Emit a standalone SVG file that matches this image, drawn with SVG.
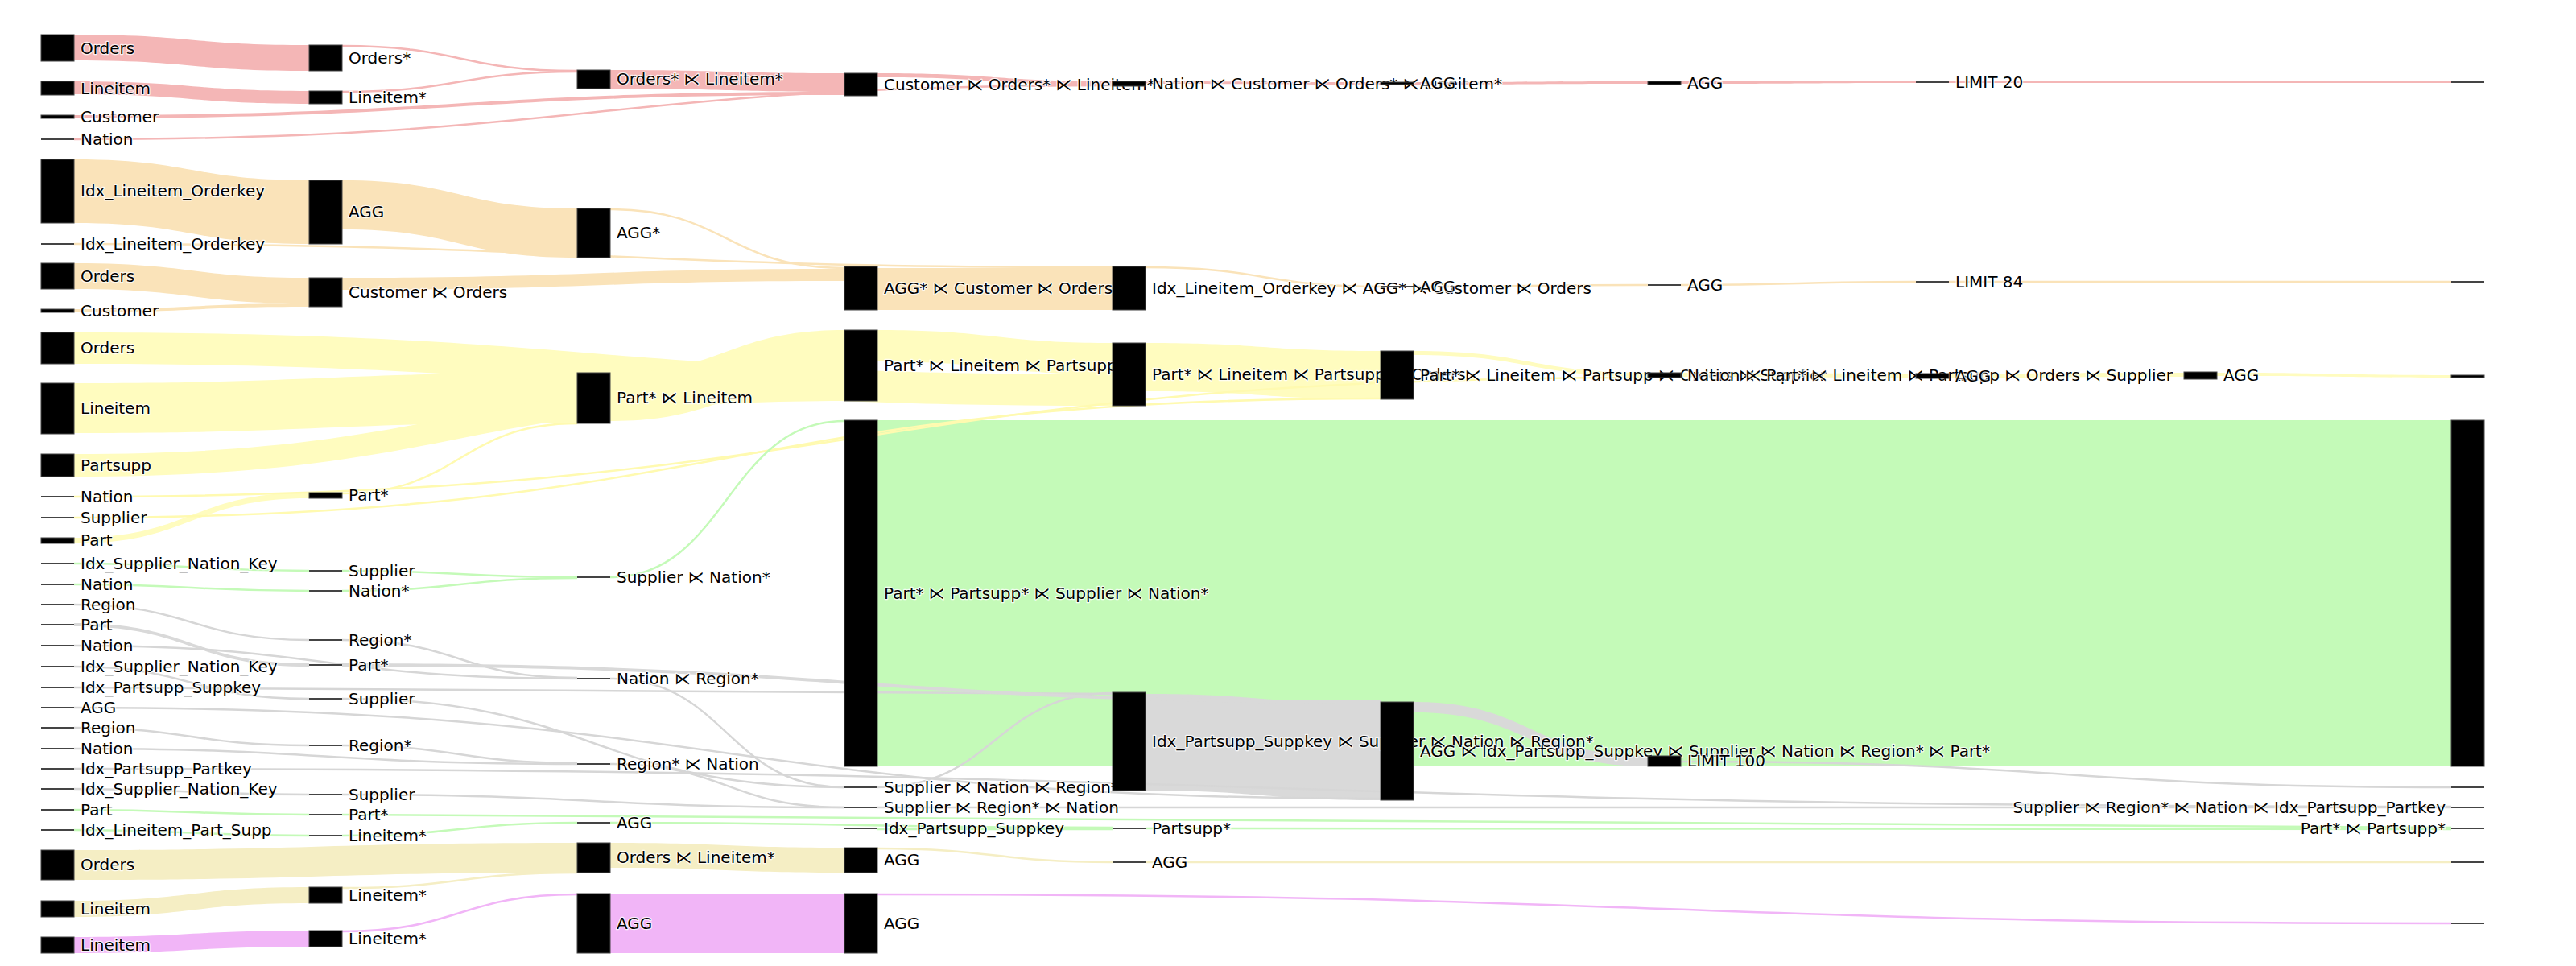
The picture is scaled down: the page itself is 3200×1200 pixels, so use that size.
<svg xmlns="http://www.w3.org/2000/svg" width="3200" height="1200" viewBox="0 0 3200 1200">
<style>
.nd{fill:#000;stroke:#444;stroke-width:1}
.th{fill:#444}
text{font-family:"DejaVu Sans","Liberation Sans",sans-serif;font-size:20px;fill:#000;stroke:#fff;stroke-width:2.5;stroke-linejoin:round;paint-order:stroke;stroke-opacity:.8}
.r{text-anchor:end}
.pk{fill:#F4B6B6}.pkl{fill:none;stroke:#F4B6B6;stroke-width:2.5}
.or{fill:#FAE3B9}.orl{fill:none;stroke:#FAE3B9;stroke-width:2.5}
.ye{fill:#FFFCBF}.yel{fill:none;stroke:#FFFAB0;stroke-width:2.5}
.gr{fill:#C4FAB8}.grl{fill:none;stroke:#C4FAB8;stroke-width:2.5}
.gy{fill:#D9D9D9}.gyl{fill:none;stroke:#D6D6D6;stroke-width:2.5}
.kh{fill:#F5EEC4}.khl{fill:none;stroke:#F5EEC4;stroke-width:2.5}
.vi{fill:#F1B5F7}.vil{fill:none;stroke:#F1B5F7;stroke-width:2.5}
</style>
<rect width="3200" height="1200" fill="#fff"/>
<g id="links">
<path class="gr" d="M1090,522L3045,522L3045,952L1090,952Z"/>
<path class="pk" d="M92,43C238,43 238,56 384,56L384,88C238,88 238,75 92,75Z"/>
<path class="pk" d="M92,101C238,101 238,113 384,113L384,129C238,129 238,117 92,117Z"/>
<path class="pkl" d="M425,57C571,57 571,88 717,88"/>
<path class="pkl" d="M425,114C571,114 571,89 717,89"/>
<path class="pk" d="M92,143C570,143 570,114 1049,114L1049,118C570,118 570,147 92,147Z"/>
<path class="pkl" d="M92,173C737,173 737,106 1382,106"/>
<path class="pk" d="M758,87C903,87 903,91 1049,91L1049,114C903,114 903,110 758,110Z"/>
<path class="pk" d="M1090,91C1236,91 1236,101 1382,101L1382,106C1236,106 1236,96 1090,96Z"/>
<path class="pk" d="M1423,101C1569,101 1569,102 1715,102L1715,105C1569,105 1569,104 1423,104Z"/>
<path class="pk" d="M1756,102C1901,102 1901,101 2047,101L2047,104C1901,104 1901,105 1756,105Z"/>
<path class="pk" d="M2088,101C2234,101 2234,100 2380,100L2380,103C2234,103 2234,104 2088,104Z"/>
<path class="pk" d="M2421,100L3045,100L3045,103L2421,103Z"/>
<path class="or" d="M92,198C238,198 238,224 384,224L384,303C238,303 238,277 92,277Z"/>
<path class="orl" d="M92,303C737,303 737,332 1382,332"/>
<path class="or" d="M425,224C571,224 571,259 717,259L717,320C571,320 571,285 425,285Z"/>
<path class="orl" d="M758,260C903,260 903,333 1049,333"/>
<path class="or" d="M92,327C238,327 238,345 384,345L384,377C238,377 238,359 92,359Z"/>
<path class="or" d="M92,384C238,384 238,377 384,377L384,381C238,381 238,388 92,388Z"/>
<path class="or" d="M425,345C737,345 737,334 1049,334L1049,349C737,349 737,360 425,360Z"/>
<path class="or" d="M1090,333L1382,333L1382,385L1090,385Z"/>
<path class="orl" d="M1423,332C1569,332 1569,356 1715,356"/>
<path class="orl" d="M1756,356C1901,356 1901,354 2047,354"/>
<path class="orl" d="M2088,354C2234,354 2234,350 2380,350"/>
<path class="orl" d="M2421,350L3045,350"/>
<path class="ye" d="M92,668C238,668 238,612 384,612L384,619C238,619 238,675 92,675Z"/>
<path class="yel" d="M425,613C571,613 571,526 717,526"/>
<path class="ye" d="M92,476C404,476 404,463 717,463L717,525C404,525 404,538 92,538Z"/>
<path class="ye" d="M92,413C737,413 737,465 1382,465L1382,504C737,504 737,452 92,452Z"/>
<path class="ye" d="M92,564C570,564 570,470 1049,470L1049,498C570,498 570,592 92,592Z"/>
<path class="ye" d="M758,463C903,463 903,410 1049,410L1049,470C903,470 903,523 758,523Z"/>
<path class="ye" d="M1090,410C1236,410 1236,426 1382,426L1382,465C1236,465 1236,449 1090,449Z"/>
<path class="ye" d="M1423,426C1569,426 1569,436 1715,436L1715,496C1569,496 1569,486 1423,486Z"/>
<path class="yel" d="M92,643C903,643 903,495 1715,495"/>
<path class="ye" d="M1756,436C1901,436 1901,463 2047,463L2047,468C1901,468 1901,441 1756,441Z"/>
<path class="yel" d="M92,617C1069,617 1069,469 2047,469"/>
<path class="ye" d="M2088,463C2234,463 2234,464 2380,464L2380,469C2234,469 2234,468 2088,468Z"/>
<path class="ye" d="M2421,464C2567,464 2567,463 2713,463L2713,468C2567,468 2567,469 2421,469Z"/>
<path class="ye" d="M2754,463C2899,463 2899,466 3045,466L3045,469C2899,469 2899,467 2754,467Z"/>
<path class="grl" d="M92,700C238,700 238,709 384,709"/>
<path class="grl" d="M92,726C238,726 238,734 384,734"/>
<path class="grl" d="M425,709C571,709 571,717 717,717"/>
<path class="grl" d="M425,734C571,734 571,718 717,718"/>
<path class="grl" d="M758,717C903,717 903,523 1049,523"/>
<path class="grl" d="M92,1006C238,1006 238,1012 384,1012"/>
<path class="grl" d="M92,1031C238,1031 238,1038 384,1038"/>
<path class="grl" d="M425,1038C571,1038 571,1022 717,1022"/>
<path class="grl" d="M425,1012C1735,1012 1735,1028 3045,1028"/>
<path class="grl" d="M758,1022C1070,1022 1070,1028 1382,1028"/>
<path class="grl" d="M1090,1030L1382,1030"/>
<path class="grl" d="M1423,1029C2234,1029 2234,1030 3045,1030"/>
<path class="gyl" d="M92,751C238,751 238,795 384,795"/>
<path class="gy" d="M92,774C238,774 238,824 384,824L384,828C238,828 238,778 92,778Z"/>
<path class="gyl" d="M92,802C404,802 404,843 717,843"/>
<path class="gyl" d="M425,795C571,795 571,842 717,842"/>
<path class="gyl" d="M92,828C238,828 238,868 384,868"/>
<path class="gyl" d="M758,843C903,843 903,978 1049,978"/>
<path class="gyl" d="M425,868C737,868 737,978 1049,978"/>
<path class="gyl" d="M1090,978C1236,978 1236,861 1382,861"/>
<path class="gyl" d="M92,854C737,854 737,862 1382,862"/>
<path class="gy" d="M1423,862C1569,862 1569,874 1715,874L1715,994C1569,994 1569,982 1423,982Z"/>
<path class="gyl" d="M92,879C903,879 903,992 1715,992"/>
<path class="gy" d="M425,824C1070,824 1070,870 1715,870L1715,874C1070,874 1070,828 425,828Z"/>
<path class="gy" d="M1756,872C1901,872 1901,939 2047,939L2047,952C1901,952 1901,885 1756,885Z"/>
<path class="gyl" d="M2088,946C2566,946 2566,978 3045,978"/>
<path class="gyl" d="M92,904C238,904 238,926 384,926"/>
<path class="gyl" d="M92,930C404,930 404,949 717,949"/>
<path class="gyl" d="M425,926C571,926 571,948 717,948"/>
<path class="gyl" d="M92,980C238,980 238,987 384,987"/>
<path class="gyl" d="M758,949C903,949 903,1003 1049,1003"/>
<path class="gyl" d="M425,987C737,987 737,1003 1049,1003"/>
<path class="gyl" d="M1090,1003L3045,1003"/>
<path class="gyl" d="M92,955C1568,955 1568,1002 3045,1002"/>
<path class="kh" d="M92,1056C404,1056 404,1047 717,1047L717,1084C404,1084 404,1093 92,1093Z"/>
<path class="kh" d="M92,1119C238,1119 238,1102 384,1102L384,1122C238,1122 238,1139 92,1139Z"/>
<path class="khl" d="M425,1103C571,1103 571,1084 717,1084"/>
<path class="kh" d="M758,1047C903,1047 903,1053 1049,1053L1049,1084C903,1084 903,1078 758,1078Z"/>
<path class="khl" d="M1090,1054C1236,1054 1236,1071 1382,1071"/>
<path class="khl" d="M1423,1071L3045,1071"/>
<path class="vi" d="M92,1164C238,1164 238,1156 384,1156L384,1176C238,1176 238,1184 92,1184Z"/>
<path class="vil" d="M425,1157C571,1157 571,1111 717,1111"/>
<path class="vi" d="M758,1110L1049,1110L1049,1184L758,1184Z"/>
<path class="vil" d="M1090,1111C2067,1111 2067,1147 3045,1147"/>
</g>
<g id="nodes">
<g id="p0a"><rect class="nd" x="51" y="43" width="41" height="33"/><text x="100" y="67">Orders</text></g>
<g id="p0b"><rect class="nd" x="51" y="101" width="41" height="17"/><text x="100" y="117">Lineitem</text></g>
<g id="p0c"><rect class="nd" x="51" y="143" width="41" height="4"/><text x="100" y="152">Customer</text></g>
<g id="p0d"><rect class="th" x="51" y="172" width="41" height="2"/><text x="100" y="180">Nation</text></g>
<g id="p1a"><rect class="nd" x="384" y="56" width="41" height="32"/><text x="433" y="79">Orders*</text></g>
<g id="p1b"><rect class="nd" x="384" y="113" width="41" height="16"/><text x="433" y="128">Lineitem*</text></g>
<g id="p2"><rect class="nd" x="717" y="87" width="41" height="23"/><text x="766" y="105">Orders* ⋉ Lineitem*</text></g>
<g id="p3"><rect class="nd" x="1049" y="91" width="41" height="28"/><text x="1098" y="112">Customer ⋉ Orders* ⋉ Lineitem*</text></g>
<g id="p4"><rect class="nd" x="1382" y="101" width="41" height="6"/><text x="1431" y="111">Nation ⋉ Customer ⋉ Orders* ⋉ Lineitem*</text></g>
<g id="p5"><rect class="nd" x="1715" y="102" width="41" height="3"/><text x="1764" y="110">AGG</text></g>
<g id="p6"><rect class="nd" x="2047" y="101" width="41" height="4"/><text x="2096" y="110">AGG</text></g>
<g id="p7"><rect class="th" x="2380" y="100" width="41" height="3"/><text x="2429" y="109">LIMIT 20</text></g>
<g id="p9"><rect class="th" x="3045" y="100" width="41" height="3"/></g>

<g id="o0a"><rect class="nd" x="51" y="198" width="41" height="79"/><text x="100" y="244">Idx_Lineitem_Orderkey</text></g>
<g id="o0b"><rect class="th" x="51" y="302" width="41" height="2"/><text x="100" y="310">Idx_Lineitem_Orderkey</text></g>
<g id="o0c"><rect class="nd" x="51" y="327" width="41" height="32"/><text x="100" y="350">Orders</text></g>
<g id="o0d"><rect class="nd" x="51" y="384" width="41" height="4"/><text x="100" y="393">Customer</text></g>
<g id="o1a"><rect class="nd" x="384" y="224" width="41" height="79"/><text x="433" y="270">AGG</text></g>
<g id="o1b"><rect class="nd" x="384" y="345" width="41" height="36"/><text x="433" y="370">Customer ⋉ Orders</text></g>
<g id="o2"><rect class="nd" x="717" y="259" width="41" height="61"/><text x="766" y="296">AGG*</text></g>
<g id="o3"><rect class="nd" x="1049" y="331" width="41" height="54"/><text x="1098" y="365">AGG* ⋉ Customer ⋉ Orders</text></g>
<g id="o4"><rect class="nd" x="1382" y="331" width="41" height="54"/><text x="1431" y="365">Idx_Lineitem_Orderkey ⋉ AGG* ⋉ Customer ⋉ Orders</text></g>
<g id="o5"><rect class="th" x="1715" y="355" width="41" height="2"/><text x="1764" y="363">AGG</text></g>
<g id="o6"><rect class="th" x="2047" y="353" width="41" height="2"/><text x="2096" y="361">AGG</text></g>
<g id="o7"><rect class="th" x="2380" y="349" width="41" height="2"/><text x="2429" y="357">LIMIT 84</text></g>
<g id="o9"><rect class="th" x="3045" y="349" width="41" height="2"/></g>

<g id="y0a"><rect class="nd" x="51" y="413" width="41" height="39"/><text x="100" y="439">Orders</text></g>
<g id="y0b"><rect class="nd" x="51" y="476" width="41" height="63"/><text x="100" y="514">Lineitem</text></g>
<g id="y0c"><rect class="nd" x="51" y="564" width="41" height="28"/><text x="100" y="585">Partsupp</text></g>
<g id="y0d"><rect class="th" x="51" y="616" width="41" height="2"/><text x="100" y="624">Nation</text></g>
<g id="y0e"><rect class="th" x="51" y="642" width="41" height="2"/><text x="100" y="650">Supplier</text></g>
<g id="y0f"><rect class="nd" x="51" y="668" width="41" height="7"/><text x="100" y="678">Part</text></g>
<g id="y1"><rect class="nd" x="384" y="612" width="41" height="7"/><text x="433" y="622">Part*</text></g>
<g id="y2"><rect class="nd" x="717" y="463" width="41" height="63"/><text x="766" y="501">Part* ⋉ Lineitem</text></g>
<g id="y3"><rect class="nd" x="1049" y="410" width="41" height="88"/><text x="1098" y="461">Part* ⋉ Lineitem ⋉ Partsupp</text></g>
<g id="y4"><rect class="nd" x="1382" y="426" width="41" height="78"/><text x="1431" y="472">Part* ⋉ Lineitem ⋉ Partsupp ⋉ Orders</text></g>
<g id="y5"><rect class="nd" x="1715" y="436" width="41" height="60"/><text x="1764" y="473">Part* ⋉ Lineitem ⋉ Partsupp ⋉ Orders ⋉ Supplier</text></g>
<g id="y6"><rect class="nd" x="2047" y="463" width="41" height="6"/><text x="2096" y="473">Nation ⋉ Part* ⋉ Lineitem ⋉ Partsupp ⋉ Orders ⋉ Supplier</text></g>
<g id="y7"><rect class="nd" x="2380" y="464" width="41" height="6"/><text x="2429" y="474">AGG</text></g>
<g id="y8"><rect class="nd" x="2713" y="462" width="41" height="9"/><text x="2762" y="473">AGG</text></g>
<g id="y9"><rect class="nd" x="3045" y="466" width="41" height="3"/></g>

<g id="g0a"><rect class="th" x="51" y="699" width="41" height="2"/><text x="100" y="707">Idx_Supplier_Nation_Key</text></g>
<g id="g0b"><rect class="th" x="51" y="725" width="41" height="2"/><text x="100" y="733">Nation</text></g>
<g id="g1a"><rect class="th" x="384" y="708" width="41" height="2"/><text x="433" y="716">Supplier</text></g>
<g id="g1b"><rect class="th" x="384" y="733" width="41" height="2"/><text x="433" y="741">Nation*</text></g>
<g id="g2"><rect class="th" x="717" y="716" width="41" height="2"/><text x="766" y="724">Supplier ⋉ Nation*</text></g>
<g id="g3"><rect class="nd" x="1049" y="522" width="41" height="430"/><text x="1098" y="744">Part* ⋉ Partsupp* ⋉ Supplier ⋉ Nation*</text></g>
<g id="g9"><rect class="nd" x="3045" y="522" width="41" height="430"/></g>
<g id="g0c"><rect class="th" x="51" y="1005" width="41" height="2"/><text x="100" y="1013">Part</text></g>
<g id="g0d"><rect class="th" x="51" y="1030" width="41" height="2"/><text x="100" y="1038">Idx_Lineitem_Part_Supp</text></g>
<g id="g1c"><rect class="th" x="384" y="1011" width="41" height="2"/><text x="433" y="1019">Part*</text></g>
<g id="g1d"><rect class="th" x="384" y="1037" width="41" height="2"/><text x="433" y="1045">Lineitem*</text></g>
<g id="g2b"><rect class="th" x="717" y="1021" width="41" height="2"/><text x="766" y="1029">AGG</text></g>
<g id="g3b"><rect class="th" x="1049" y="1028" width="41" height="2"/><text x="1098" y="1036">Idx_Partsupp_Suppkey</text></g>
<g id="g4"><rect class="th" x="1382" y="1028" width="41" height="2"/><text x="1431" y="1036">Partsupp*</text></g>
<g id="g9b"><rect class="th" x="3045" y="1028" width="41" height="2"/><text class="r" x="3038" y="1036">Part* ⋉ Partsupp*</text></g>

<g id="r0a"><rect class="th" x="51" y="750" width="41" height="2"/><text x="100" y="758">Region</text></g>
<g id="r0b"><rect class="th" x="51" y="775" width="41" height="2"/><text x="100" y="783">Part</text></g>
<g id="r0c"><rect class="th" x="51" y="801" width="41" height="2"/><text x="100" y="809">Nation</text></g>
<g id="r0d"><rect class="th" x="51" y="827" width="41" height="2"/><text x="100" y="835">Idx_Supplier_Nation_Key</text></g>
<g id="r0e"><rect class="th" x="51" y="853" width="41" height="2"/><text x="100" y="861">Idx_Partsupp_Suppkey</text></g>
<g id="r0f"><rect class="th" x="51" y="878" width="41" height="2"/><text x="100" y="886">AGG</text></g>
<g id="r0g"><rect class="th" x="51" y="903" width="41" height="2"/><text x="100" y="911">Region</text></g>
<g id="r0h"><rect class="th" x="51" y="929" width="41" height="2"/><text x="100" y="937">Nation</text></g>
<g id="r0i"><rect class="th" x="51" y="954" width="41" height="2"/><text x="100" y="962">Idx_Partsupp_Partkey</text></g>
<g id="r0j"><rect class="th" x="51" y="979" width="41" height="2"/><text x="100" y="987">Idx_Supplier_Nation_Key</text></g>
<g id="r1a"><rect class="th" x="384" y="794" width="41" height="2"/><text x="433" y="802">Region*</text></g>
<g id="r1b"><rect class="th" x="384" y="825" width="41" height="2"/><text x="433" y="833">Part*</text></g>
<g id="r1c"><rect class="th" x="384" y="867" width="41" height="2"/><text x="433" y="875">Supplier</text></g>
<g id="r1d"><rect class="th" x="384" y="925" width="41" height="2"/><text x="433" y="933">Region*</text></g>
<g id="r1e"><rect class="th" x="384" y="986" width="41" height="2"/><text x="433" y="994">Supplier</text></g>
<g id="r2a"><rect class="th" x="717" y="842" width="41" height="2"/><text x="766" y="850">Nation ⋉ Region*</text></g>
<g id="r2b"><rect class="th" x="717" y="948" width="41" height="2"/><text x="766" y="956">Region* ⋉ Nation</text></g>
<g id="r3a"><rect class="th" x="1049" y="977" width="41" height="2"/><text x="1098" y="985">Supplier ⋉ Nation ⋉ Region*</text></g>
<g id="r3b"><rect class="th" x="1049" y="1002" width="41" height="2"/><text x="1098" y="1010">Supplier ⋉ Region* ⋉ Nation</text></g>
<g id="r4"><rect class="nd" x="1382" y="860" width="41" height="122"/><text x="1431" y="928">Idx_Partsupp_Suppkey ⋉ Supplier ⋉ Nation ⋉ Region*</text></g>
<g id="r5"><rect class="nd" x="1715" y="872" width="41" height="122"/><text x="1764" y="940">AGG ⋉ Idx_Partsupp_Suppkey ⋉ Supplier ⋉ Nation ⋉ Region* ⋉ Part*</text></g>
<g id="r6"><rect class="nd" x="2047" y="939" width="41" height="13"/><text x="2096" y="952">LIMIT 100</text></g>
<g id="r9a"><rect class="th" x="3045" y="977" width="41" height="2"/></g>
<g id="r9b"><rect class="th" x="3045" y="1002" width="41" height="2"/><text class="r" x="3038" y="1010">Supplier ⋉ Region* ⋉ Nation ⋉ Idx_Partsupp_Partkey</text></g>

<g id="k0a"><rect class="nd" x="51" y="1056" width="41" height="37"/><text x="100" y="1081">Orders</text></g>
<g id="k0b"><rect class="nd" x="51" y="1119" width="41" height="20"/><text x="100" y="1136">Lineitem</text></g>
<g id="k1"><rect class="nd" x="384" y="1102" width="41" height="20"/><text x="433" y="1119">Lineitem*</text></g>
<g id="k2"><rect class="nd" x="717" y="1047" width="41" height="37"/><text x="766" y="1072">Orders ⋉ Lineitem*</text></g>
<g id="k3"><rect class="nd" x="1049" y="1053" width="41" height="31"/><text x="1098" y="1075">AGG</text></g>
<g id="k4"><rect class="th" x="1382" y="1070" width="41" height="2"/><text x="1431" y="1078">AGG</text></g>
<g id="k9"><rect class="th" x="3045" y="1070" width="41" height="2"/></g>

<g id="v0"><rect class="nd" x="51" y="1164" width="41" height="20"/><text x="100" y="1181">Lineitem</text></g>
<g id="v1"><rect class="nd" x="384" y="1156" width="41" height="20"/><text x="433" y="1173">Lineitem*</text></g>
<g id="v2"><rect class="nd" x="717" y="1110" width="41" height="74"/><text x="766" y="1154">AGG</text></g>
<g id="v3"><rect class="nd" x="1049" y="1110" width="41" height="74"/><text x="1098" y="1154">AGG</text></g>
<g id="v9"><rect class="th" x="3045" y="1146" width="41" height="2"/></g>
</g>
</svg>
